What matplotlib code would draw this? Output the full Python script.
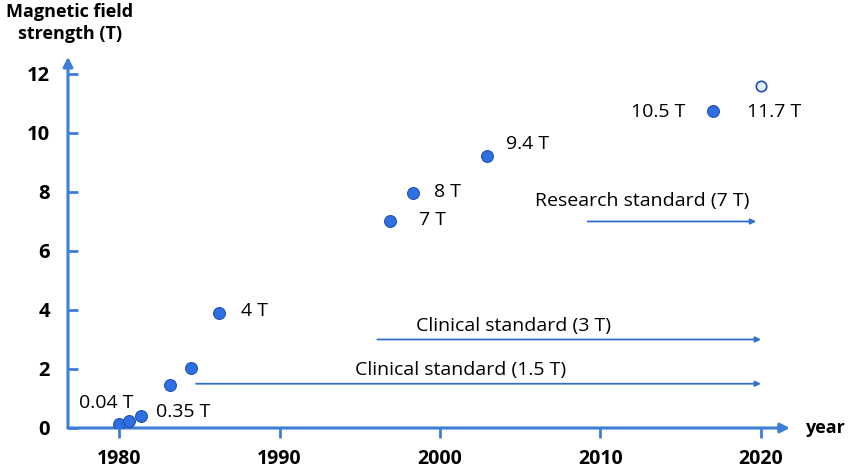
import matplotlib
matplotlib.use("Agg")
import matplotlib.pyplot as plt

# measured points (year, field strength in T)
years = [1980.0, 1980.6, 1981.4, 1983.2, 1984.5, 1986.2, 1996.9, 1998.3, 2002.9, 2017.0]
fields = [0.14, 0.24, 0.41, 1.45, 2.03, 3.9, 7.0, 7.97, 9.22, 10.75]
planned_year = [2020.0]
planned_field = [11.6]

# point labels: text, x (left edge), y
label_text = ["0.04 T", "0.35 T", "4 T", "7 T", "8 T", "9.4 T", "10.5 T", "11.7 T"]
label_x = [1977.5, 1982.3, 1987.6, 1998.7, 1999.6, 2004.1, 2011.9, 2019.1]
label_y = [0.85, 0.54, 3.95, 7.05, 8.0, 9.63, 10.72, 10.72]

# reference standards: name, level, arrow start, arrow end
std_names = ["Clinical standard (1.5 T)", "Clinical standard (3 T)", "Research standard (7 T)"]
std_level = [1.5, 3.0, 7.0]
std_start = [1984.8, 1996.1, 2009.2]
std_end = [2020.0, 2020.0, 2019.7]
std_text_x = [2001.3, 2004.6, 2012.6]
std_text_y = [1.97, 3.46, 7.69]

xticks = [1980, 1990, 2000, 2010, 2020]
yticks = [0, 2, 4, 6, 8, 10, 12]

axis_blue = "#3d7fd8"
dot_blue = "#2f6fe4"
edge_blue = "#1f4fb0"

plt.rcParams["font.family"] = ["Open Sans", "DejaVu Sans"]

fig = plt.figure(figsize=(8.5, 4.71), dpi=100)
ax = fig.add_axes([0.08, 0.0913, 0.8494, 0.788])
ax.set_xlim(1976.82, 2021.81)
ax.set_ylim(0, 12.58)

for s in ax.spines.values():
    s.set_visible(False)

# axis arrows
ax.annotate("", xy=(1, 0), xytext=(0, 0), xycoords="axes fraction",
            arrowprops=dict(arrowstyle="-|>", color=axis_blue, lw=2.2,
                            mutation_scale=14, shrinkA=0, shrinkB=0))
ax.annotate("", xy=(0, 1), xytext=(0, 0), xycoords="axes fraction",
            arrowprops=dict(arrowstyle="-|>", color=axis_blue, lw=2.2,
                            mutation_scale=14, shrinkA=0, shrinkB=0))

ax.set_xticks(xticks)
ax.set_yticks(yticks)
ax.tick_params(axis="x", direction="out", length=7, width=2, color=axis_blue,
               pad=8, labelsize=14)
ax.tick_params(axis="y", direction="in", length=7, width=2, color=axis_blue,
               pad=13, labelsize=14.5)
for lab in ax.get_xticklabels() + ax.get_yticklabels():
    lab.set_fontweight("bold")

ax.plot(years, fields, "o", ms=8.5, mfc=dot_blue, mec=edge_blue, mew=0.8, zorder=5)
ax.plot(planned_year, planned_field, "o", ms=7.5, mfc="#e4edfa", mec=edge_blue,
        mew=1.2, zorder=5)

for t, x, y in zip(label_text, label_x, label_y):
    ax.text(x, y, t, fontsize=14, ha="left", va="center")

for name, lvl, x0, x1, tx, ty in zip(std_names, std_level, std_start, std_end,
                                      std_text_x, std_text_y):
    ax.annotate("", xy=(x1, lvl), xytext=(x0, lvl),
                arrowprops=dict(arrowstyle="-|>", color="#2f6fd0", lw=1.3,
                                mutation_scale=8, shrinkA=0, shrinkB=0))
    ax.text(tx, ty, name, fontsize=14, ha="center", va="center")

fig.text(70 / 850, 1 - 3 / 471, "Magnetic field\nstrength (T)", ha="center",
         va="top", fontsize=13, fontweight="bold", linespacing=1.3)
fig.text(806 / 850, 1 - 428 / 471, "year", ha="left", va="center",
         fontsize=13, fontweight="bold")

fig.savefig("out.png", dpi=100)
